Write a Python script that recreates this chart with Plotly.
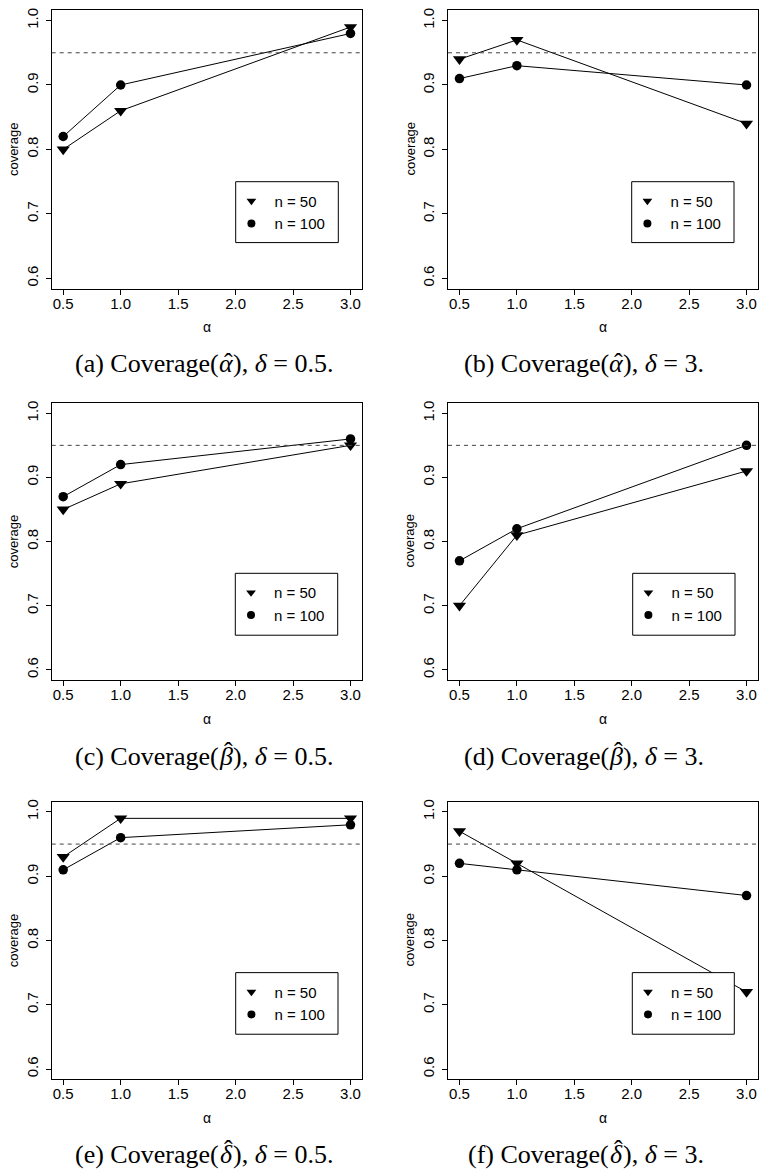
import plotly.graph_objects as go

# ---------------- data ----------------
alpha_vals = [0.5, 1.0, 3.0]
x_ticks = [0.5, 1.0, 1.5, 2.0, 2.5, 3.0]
y_ticks = [0.6, 0.7, 0.8, 0.9, 1.0]
nominal_level = 0.95
series_names = ["n = 50", "n = 100"]

# (a) Coverage(alpha_hat), delta = 0.5
cov_a_n50 = [0.80, 0.86, 0.99]
cov_a_n100 = [0.82, 0.90, 0.98]
# (b) Coverage(alpha_hat), delta = 3
cov_b_n50 = [0.94, 0.97, 0.84]
cov_b_n100 = [0.91, 0.93, 0.90]
# (c) Coverage(beta_hat), delta = 0.5
cov_c_n50 = [0.85, 0.89, 0.95]
cov_c_n100 = [0.87, 0.92, 0.96]
# (d) Coverage(beta_hat), delta = 3
cov_d_n50 = [0.70, 0.81, 0.91]
cov_d_n100 = [0.77, 0.82, 0.95]
# (e) Coverage(delta_hat), delta = 0.5
cov_e_n50 = [0.93, 0.99, 0.99]
cov_e_n100 = [0.91, 0.96, 0.98]
# (f) Coverage(delta_hat), delta = 3
cov_f_n50 = [0.97, 0.92, 0.72]
cov_f_n100 = [0.92, 0.91, 0.87]

caption_tags = ["(a)", "(b)", "(c)", "(d)", "(e)", "(f)"]
caption_syms = ["α", "α", "β", "β", "δ", "δ"]
caption_deltas = ["0.5", "3", "0.5", "3", "0.5", "3"]

panels = [
    (cov_a_n50, cov_a_n100),
    (cov_b_n50, cov_b_n100),
    (cov_c_n50, cov_c_n100),
    (cov_d_n50, cov_d_n100),
    (cov_e_n50, cov_e_n100),
    (cov_f_n50, cov_f_n100),
]

# ---------------- layout geometry (pixels) ----------------
W, H = 759, 1171
col_x = [(51.7, 362.0), (448.0, 758.0)]
row_y = [(8.3, 287.0), (401.7, 679.3), (801.0, 1079.3)]
# legend boxes (left, top, right, bottom) in px
leg_boxes = [
    (235.7, 180.0, 338.3, 241.0),
    (631.7, 180.0, 734.0, 241.0),
    (235.3, 572.3, 337.7, 634.3),
    (632.7, 572.3, 735.0, 634.3),
    (235.7, 972.3, 338.0, 1034.0),
    (632.3, 972.3, 734.3, 1034.0),
]
cap_sym_x = [226, 616]          # x of hatted symbol in caption
caption_y = [362, 756, 1154]
CAP_FS = 26
SYM_HALF = 6.8

SANS = "Liberation Sans, Arial, Helvetica, sans-serif"
SERIF = "Liberation Serif, Times New Roman, serif"

def px(x):
    return x / W

def py(y):
    return 1 - y / H

fig = go.Figure()
layout = dict(
    width=W, height=H,
    margin=dict(l=0, r=0, t=0, b=0),
    paper_bgcolor="white", plot_bgcolor="white",
    showlegend=True,
    shapes=[], annotations=[],
)

symbols = ["triangle-down", "circle"]
msizes = [11.5, 9.5]
leg_msizes = [8.5, 8]

def cap_ann(text, x, y, xanchor, size=CAP_FS):
    return dict(
        text=text, xref="paper", yref="paper", x=px(x), y=py(y),
        showarrow=False, xanchor=xanchor, yanchor="middle",
        borderpad=0, borderwidth=0,
        font=dict(family=SERIF, size=size, color="black"),
    )

for k, (s50, s100) in enumerate(panels):
    i = k + 1
    r, c = divmod(k, 2)
    xs = "" if i == 1 else str(i)
    x0, x1 = col_x[c]
    y0, y1 = row_y[r]
    legname = "legend" if i == 1 else f"legend{i}"

    for j, vals in enumerate([s50, s100]):
        fig.add_trace(go.Scatter(
            x=alpha_vals, y=vals, mode="lines+markers",
            line=dict(color="black", width=1),
            marker=dict(symbol=symbols[j], size=msizes[j], color="black",
                        line=dict(width=0)),
            xaxis="x" + xs, yaxis="y" + xs, showlegend=False,
            hoverinfo="x+y",
        ))
    # legend entries (markers only, as in R legend)
    for j in range(2):
        fig.add_trace(go.Scatter(
            x=[None], y=[None], mode="markers", name=series_names[j],
            marker=dict(symbol=symbols[j], size=leg_msizes[j], color="black",
                        line=dict(width=0)),
            xaxis="x" + xs, yaxis="y" + xs, legend=legname, showlegend=True,
        ))

    axis_common = dict(
        showline=True, linecolor="black", linewidth=1, mirror=True,
        ticks="outside", ticklen=5, tickcolor="black", tickwidth=1,
        showgrid=False, zeroline=False,
        tickfont=dict(family=SANS, size=15, color="black"),
    )
    layout["xaxis" + xs] = dict(
        axis_common, domain=[px(x0), px(x1)], anchor="y" + xs,
        range=[0.4, 3.1], tickmode="array", tickvals=x_ticks,
        ticktext=[f"{v:.1f}" for v in x_ticks], ticklabelstandoff=-4,
    )
    layout["yaxis" + xs] = dict(
        axis_common, domain=[py(y1), py(y0)], anchor="x" + xs,
        range=[0.584, 1.016], tickmode="array", tickvals=y_ticks,
        ticktext=[f"{v:.1f}" for v in y_ticks], tickangle=-90,
        ticklabelstandoff=2,
    )

    # nominal level dashed line
    layout["shapes"].append(dict(
        type="line", xref=f"x{xs} domain", yref="y" + xs,
        x0=0, x1=1, y0=nominal_level, y1=nominal_level,
        line=dict(color="#444444", width=1, dash="4px,4px"), layer="above",
    ))

    # legend box
    bl, bt, br, bb = leg_boxes[k]
    layout["shapes"].append(dict(
        type="rect", xref="paper", yref="paper",
        x0=px(bl), x1=px(br), y0=py(bb), y1=py(bt),
        fillcolor="white", line=dict(color="black", width=1), layer="above",
    ))
    layout[legname] = dict(
        x=px(bl - 7.3), y=py(bt + 3), xanchor="left", yanchor="top",
        xref="paper", yref="paper",
        bgcolor="rgba(0,0,0,0)", borderwidth=0,
        font=dict(family=SANS, size=15, color="black"),
        itemwidth=36, tracegroupgap=0,
    )

    # axis titles
    layout["annotations"].append(dict(
        text="coverage", xref="paper", yref="paper",
        x=px(x0 - 38), y=py((y0 + y1) / 2), showarrow=False, textangle=-90,
        xanchor="center", yanchor="middle",
        font=dict(family=SANS, size=13, color="black"),
    ))
    layout["annotations"].append(dict(
        text="α", xref="paper", yref="paper",
        x=px((x0 + x1) / 2), y=py(y1 + 39), showarrow=False,
        xanchor="center", yanchor="middle",
        font=dict(family=SANS, size=14, color="black"),
    ))

    # caption: "(x) Coverage(" + hatted symbol + "), δ = v."
    sx = cap_sym_x[c]
    cy = caption_y[r]
    sym = caption_syms[k]
    layout["annotations"].append(
        cap_ann(caption_tags[k] + " Coverage(", sx - SYM_HALF, cy, "right"))
    layout["annotations"].append(cap_ann("<i>" + sym + "</i>", sx, cy, "center"))
    layout["annotations"].append(
        cap_ann("), <i>δ</i> = " + caption_deltas[k] + ".", sx + SYM_HALF, cy, "left"))
    hat_dy = -1 if sym == "α" else -5
    layout["annotations"].append(
        cap_ann("ˆ", sx + 2, cy + hat_dy, "center", size=CAP_FS))

fig.update_layout(**layout)
fig.write_html(
    "out.html",
    config={"displayModeBar": False},
    post_script="document.body.style.margin='0';document.body.style.overflow='hidden';",
)
